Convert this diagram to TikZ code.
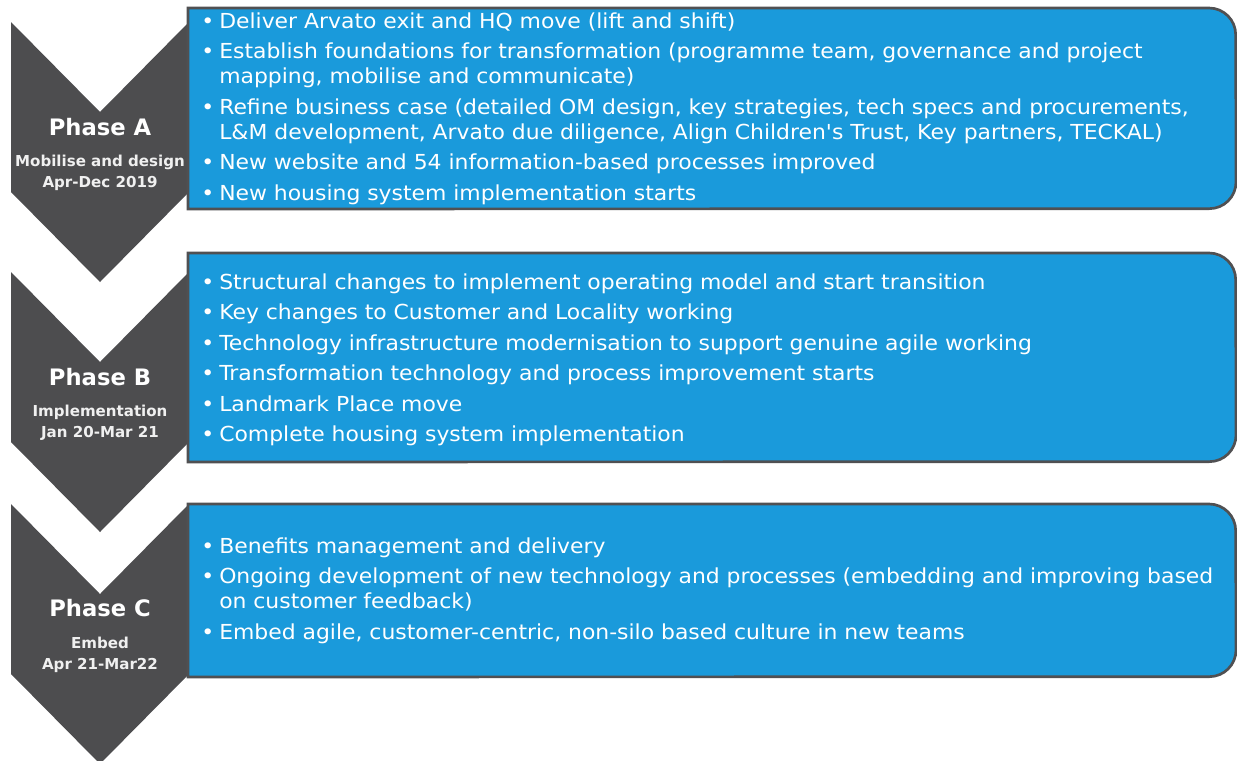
\documentclass[tikz,border=0pt]{standalone}
\usepackage{fontspec}
\setmainfont{DejaVu Sans}
\newfontfamily\listfont{DejaVu Sans}[FakeStretch=1.06]
\usetikzlibrary{positioning}

\definecolor{chevgrey}{HTML}{4D4D4F}
\definecolor{boxblue}{HTML}{1A9ADB}
\definecolor{boxline}{HTML}{505052}

% bullet with hanging indent for the lists
\newcommand{\bul}[1]{\par\hangindent=13.5pt\hangafter=1\noindent\makebox[13.5pt][l]{\textbullet}#1}
\newcommand{\brk}{\hfil\break}

\tikzset{
    chevron/.style={fill=chevgrey},
    phasebox/.style={fill=boxblue, draw=boxline, line width=2pt},
    phasetitle/.style={text=white, inner sep=0pt, font=\fontsize{17}{20}\selectfont\bfseries},
    phasesub/.style={text=white!94!black, inner sep=0pt, align=center, font=\fontsize{11.3}{15.5}\selectfont\bfseries},
    items/.style={text=white, anchor=base west, inner sep=0pt, text width=770pt,
        font=\listfont\fontsize{15.5}{18.75}\selectfont, execute at begin node={\setlength{\parskip}{4.1pt}}},
}

\begin{document}
\begin{tikzpicture}[x=0.75pt, y=-0.75pt]
    \useasboundingbox (0,0) rectangle (1237,760);
    \clip (0,0) rectangle (1237,760);

    % grey arrows down the left side
    \foreach \t in {22,272,504}
        \fill[chevron] (11,\t) -- (100,\t+90) -- (189,\t) -- (189,\t+170) -- (100,\t+260) -- (11,\t+170) -- cycle;

    % blue boxes, square on the left and rounded on the right
    \foreach \t/\b in {8/209,253/462,504/677}
        \draw[phasebox] (188,\t) -- (1209,\t) arc[start angle=90,end angle=0,radius=20pt]
            -- (1236,\b-27) arc[start angle=0,end angle=-90,radius=20pt] -- (188,\b) -- cycle;

    % phase names
    \node[phasetitle] (phaseA) at (100,127) {Phase A};
    \node[phasesub, below=14pt of phaseA] (subA) {Mobilise and design\\Apr-Dec 2019};
    \node[phasetitle] (phaseB) at (100,377) {Phase B};
    \node[phasesub, below=14pt of phaseB] (subB) {Implementation\\Jan 20-Mar 21};
    \node[phasetitle] (phaseC) at (100,608) {Phase C};
    \node[phasesub, below=15pt of phaseC] (subC) {Embed\\Apr 21-Mar22};

    % lists
    \node[items] (itemsA) at (201,-2) {%
        \bul{Deliver Arvato exit and HQ move (lift and shift)}
        \bul{Establish foundations for transformation (programme team, governance and project\brk mapping, mobilise and communicate)}
        \bul{Refine business case (detailed OM design, key strategies, tech specs and procurements,\brk L\&M development, Arvato due diligence, Align Children's Trust, Key partners, TECKAL)}
        \bul{New website and 54 information-based processes improved}
        \bul{New housing system implementation starts}};
    \node[items] (itemsB) at (201,259) {%
        \bul{Structural changes to implement operating model and start transition}
        \bul{Key changes to Customer and Locality working}
        \bul{Technology infrastructure modernisation to support genuine agile working}
        \bul{Transformation technology and process improvement starts}
        \bul{Landmark Place move}
        \bul{Complete housing system implementation}};
    \node[items] (itemsC) at (201,523) {%
        \bul{Benefits management and delivery}
        \bul{Ongoing development of new technology and processes (embedding and improving based\brk on customer feedback)}
        \bul{Embed agile, customer-centric, non-silo based culture in new teams}};
\end{tikzpicture}
\end{document}
